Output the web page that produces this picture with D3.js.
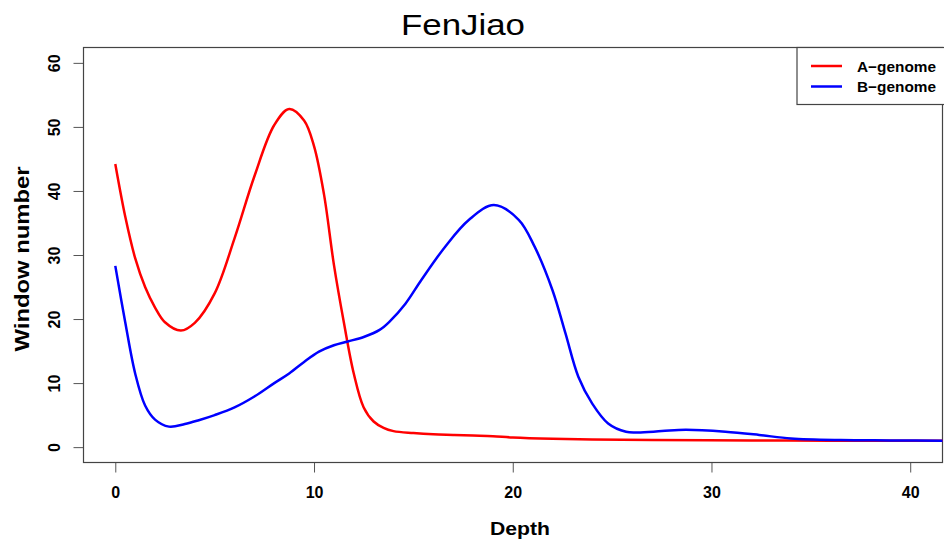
<!DOCTYPE html>
<html>
<head>
<meta charset="utf-8">
<script src="https://cdn.jsdelivr.net/npm/d3@7"></script>
<style>
  body { margin: 0; background: #fff; }
  text { font-family: "Liberation Sans", Arial, sans-serif; }
</style>
</head>
<body>
<div id="chart"></div>
<script>
// A-genome density (red)
var depthA = [0, 0.5, 1, 1.5, 2, 2.5, 3.3, 4, 5, 6, 7, 8, 8.75, 9.5, 10, 10.5, 11, 11.5, 12, 12.5, 13, 13.5, 14, 15, 16, 17, 18, 19, 20, 22, 24, 27, 32, 36, 42];
var countA = [44.2, 36.0, 29.5, 25.0, 21.8, 19.5, 18.2, 19.4, 24.0, 32.6, 42.3, 50.3, 52.8, 51.0, 47.0, 39.5, 28.5, 19.5, 11.5, 6.2, 4.0, 3.0, 2.5, 2.2, 2.0, 1.9, 1.8, 1.7, 1.5, 1.3, 1.2, 1.1, 1.05, 1.0, 1.0];

// B-genome density (blue)
var depthB = [0, 0.5, 1, 1.5, 2, 2.7, 3.5, 4.2, 5, 6, 7, 8, 8.75, 9.5, 10.25, 11, 11.7, 12.5, 13.3, 13.8, 14.6, 15.4, 16.6, 17.8, 19.05, 20.3, 21.1, 22, 22.65, 23.3, 24, 24.8, 25.7, 26.3, 27.5, 28.7, 30.7, 32.4, 34, 36.5, 39, 42];
var countB = [28.3, 19.5, 11.5, 6.5, 4.3, 3.2, 3.6, 4.2, 5.0, 6.2, 7.9, 10.0, 11.5, 13.3, 14.9, 15.9, 16.5, 17.2, 18.3, 19.6, 22.4, 26.1, 31.3, 35.5, 37.8, 35.5, 31.3, 24.5, 17.8, 11.0, 6.8, 3.7, 2.4, 2.3, 2.5, 2.7, 2.4, 1.9, 1.35, 1.1, 1.05, 1.0];

var xTicks = [0, 10, 20, 30, 40];
var yTicks = [0, 10, 20, 30, 40, 50, 60];
var seriesNames = ["A\u2212genome", "B\u2212genome"];
var seriesColors = ["#ff0000", "#0000ff"];

var width = 944, height = 544;
var box = { left: 83.5, right: 942.5, top: 47.5, bottom: 462.5 };

var x = d3.scaleLinear().domain([-1.6, 41.6]).range([box.left, 942]);
var y = d3.scaleLinear().domain([-2.4, 62.4]).range([box.bottom, box.top]);

var svg = d3.select("#chart").append("svg")
    .attr("width", width)
    .attr("height", height);

svg.append("defs").append("clipPath")
    .attr("id", "plotclip")
  .append("rect")
    .attr("x", box.left)
    .attr("y", box.top)
    .attr("width", box.right - box.left)
    .attr("height", box.bottom - box.top);

// title
svg.append("text")
    .attr("x", 463)
    .attr("y", 35)
    .attr("text-anchor", "middle")
    .attr("textLength", 124)
    .attr("lengthAdjust", "spacingAndGlyphs")
    .style("font-size", "29px")
    .text("FenJiao");

// x axis
var xAxis = d3.axisBottom(x).tickValues(xTicks).tickSize(10).tickPadding(14);
svg.append("g")
    .attr("class", "xAxis")
    .attr("transform", "translate(0," + box.bottom + ")")
    .call(customXAxis);

function customXAxis(g) {
  g.call(xAxis);
  g.select(".domain").remove();
  g.selectAll(".tick line").attr("stroke", "#555");
  g.selectAll(".tick text")
    .attr("fill", "#000")
    .style("font-size", "16px")
    .style("font-weight", "bold")
    .style("font-family", "'Liberation Sans', Arial, sans-serif");
}

// y axis, labels rotated like base R
var yAxis = d3.axisLeft(y).tickValues(yTicks).tickSize(10);
svg.append("g")
    .attr("class", "yAxis")
    .attr("transform", "translate(" + box.left + ",0)")
    .call(customYAxis);

function customYAxis(g) {
  g.call(yAxis);
  g.select(".domain").remove();
  g.selectAll(".tick line").attr("stroke", "#555");
  g.selectAll(".tick text")
    .attr("x", null)
    .attr("dy", null)
    .attr("fill", "#000")
    .attr("text-anchor", "middle")
    .attr("transform", "translate(-24,0) rotate(-90)")
    .style("font-size", "16px")
    .style("font-weight", "bold")
    .style("font-family", "'Liberation Sans', Arial, sans-serif");
}

// plot frame
svg.append("rect")
    .attr("x", box.left)
    .attr("y", box.top)
    .attr("width", box.right - box.left)
    .attr("height", box.bottom - box.top)
    .attr("fill", "none")
    .attr("stroke", "#444")
    .attr("stroke-width", 1.2);

var line = d3.line()
    .x(function(d) { return x(d[0]); })
    .y(function(d) { return y(d[1]); })
    .curve(d3.curveCatmullRom.alpha(0.5));

var series = [
  depthA.map(function(d, i) { return [d, countA[i]]; }),
  depthB.map(function(d, i) { return [d, countB[i]]; })
];

var plot = svg.append("g").attr("clip-path", "url(#plotclip)");
series.forEach(function(s, i) {
  plot.append("path")
      .datum(s)
      .attr("fill", "none")
      .attr("stroke", seriesColors[i])
      .attr("stroke-width", 2.5)
      .attr("d", line);
});

// text label for the x axis
svg.append("text")
    .attr("x", 520)
    .attr("y", 535)
    .attr("text-anchor", "middle")
    .attr("textLength", 60)
    .attr("lengthAdjust", "spacingAndGlyphs")
    .style("font-size", "19px")
    .style("font-weight", "bold")
    .text("Depth");

// text label for the y axis
svg.append("text")
    .attr("transform", "translate(28.5,259) rotate(-90)")
    .attr("text-anchor", "middle")
    .attr("textLength", 185)
    .attr("lengthAdjust", "spacingAndGlyphs")
    .style("font-size", "20px")
    .style("font-weight", "bold")
    .text("Window number");

// legend
var legend = svg.append("g").attr("class", "legend");
legend.append("rect")
    .attr("x", 797)
    .attr("y", box.top)
    .attr("width", 170)
    .attr("height", 57)
    .attr("fill", "#fff")
    .attr("stroke", "#444")
    .attr("stroke-width", 1.2);

seriesNames.forEach(function(name, i) {
  var ly = 66 + i * 20.5;
  legend.append("line")
      .attr("x1", 811).attr("x2", 842)
      .attr("y1", ly).attr("y2", ly)
      .attr("stroke", seriesColors[i])
      .attr("stroke-width", 2.5);
  legend.append("text")
      .attr("x", 857)
      .attr("y", ly + 5.5)
      .attr("textLength", 79)
      .attr("lengthAdjust", "spacingAndGlyphs")
      .style("font-size", "15px")
      .style("font-weight", "bold")
      .text(name);
});
</script>
</body>
</html>
